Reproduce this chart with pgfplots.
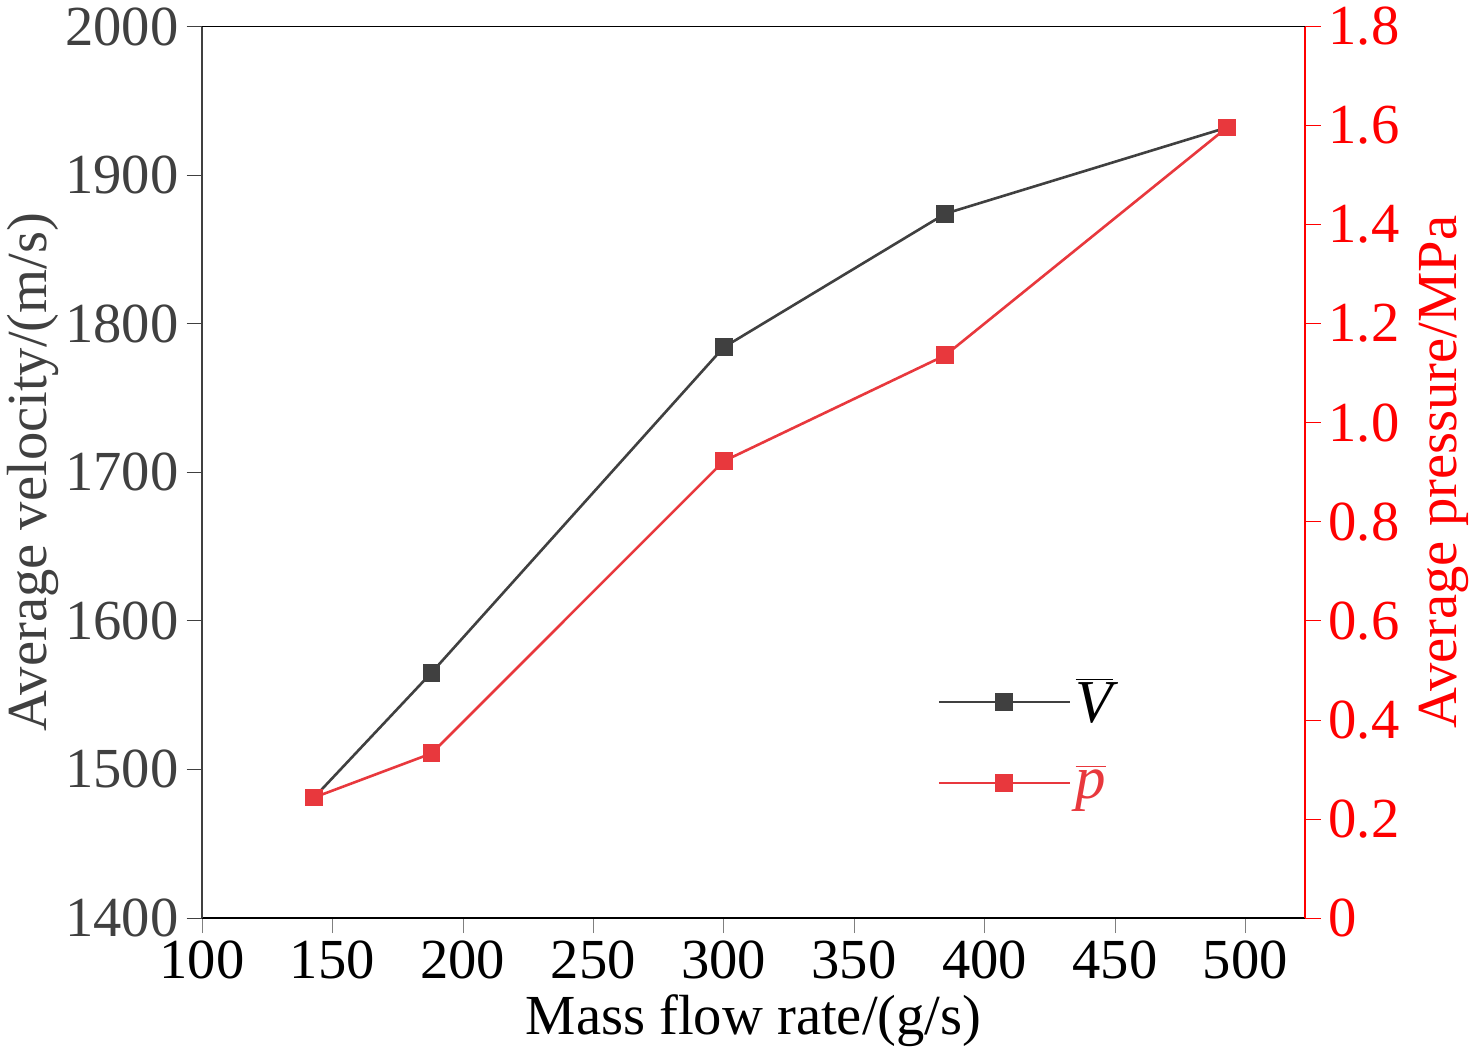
\documentclass[border=0pt]{standalone}
\usepackage{pgfplots}
\pgfplotsset{compat=1.18}
\usepackage{fontspec}
\setmainfont{Liberation Serif}
\definecolor{dg}{HTML}{404040}
\definecolor{lr}{HTML}{E8383D}
\begin{document}
\begin{tikzpicture}
\pgfplotsset{every axis/.style={scale only axis,width=505bp,height=408bp,
  xmin=100,xmax=523,tick align=outside,/pgf/number format/assume math mode=true,
  tick label style={font=\fontsize{26}{30}\selectfont},
  label style={font=\fontsize{26}{30}\selectfont},
  major tick length=7bp,line width=0.8pt}}
\begin{axis}[axis y line*=left,axis x line*=bottom,
  ymin=1400,ymax=2000,ytick={1400,1500,...,2000},
  xtick={100,150,...,500},
  x axis line style={black},
  y axis line style={dg},y tick style={dg},yticklabel style={dg},
  xticklabel style={black},
  /pgf/number format/.cd,1000 sep={},/tikz/.cd,
  xlabel={Mass flow rate/(g/s)},ylabel={Average velocity/(m/s)},
  ylabel style={dg,yshift=-4bp}]
\addplot[dg,line width=1.2pt,mark=square*,mark size=3.5bp] coordinates {(143,1481)(188,1565)(300,1784)(385,1874)(493,1932)};
\end{axis}
\begin{axis}[axis y line*=right,axis x line=none,
  ymin=0,ymax=1.8,ytick={0,0.2,...,1.8},
  y axis line style={red},y tick style={red},yticklabel style={red},
  yticklabel={\ifdim\tick pt=0pt 0\else\pgfmathprintnumber[fixed,fixed zerofill,precision=1]{\tick}\fi},
  ylabel={Average pressure/MPa},ylabel style={red,yshift=-2bp},
  legend style={draw=none,fill=none,at={(0.66,0.12)},anchor=south west,
    font=\fontsize{28}{32}\selectfont,row sep=14bp},
  legend cell align=left,
  legend image code/.code={\draw[#1] (0bp,0bp)--(60bp,0bp); \draw[#1,mark repeat=1] plot coordinates {(30bp,0bp)};}]
\draw[black,line width=0.8pt] (axis cs:100,1.8)--(axis cs:523,1.8);
\addlegendimage{dg,line width=1.2pt,mark=square*,mark size=3.5bp}
\addlegendentry{$\overline{\textit{V}}$}
\addplot[lr,line width=1.2pt,mark=square*,mark size=3.5bp] coordinates {(143,0.243)(188,0.332)(300,0.922)(385,1.136)(493,1.596)};
\addlegendentry{\textcolor{lr}{$\overline{\textit{p}}$}}
\end{axis}
\end{tikzpicture}
\end{document}
